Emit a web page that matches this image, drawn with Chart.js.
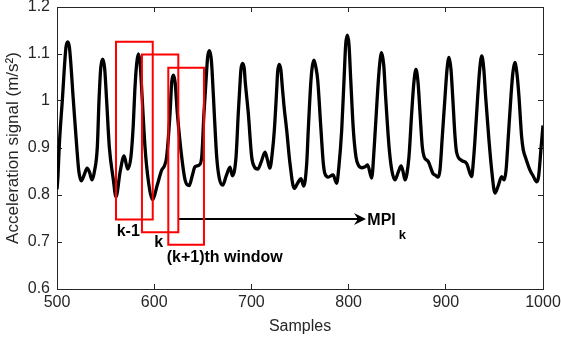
<!DOCTYPE html>
<html>
<head>
<meta charset="utf-8">
<script src="https://cdn.jsdelivr.net/npm/chart.js@4.4.0/dist/chart.umd.min.js"></script>
<style>
  html, body { margin: 0; padding: 0; background: #fff; }
  #wrap { position: relative; width: 561px; height: 338px; }
</style>
</head>
<body>
<div id="wrap"><canvas id="chart" width="561" height="338"></canvas></div>
<script>
// signal, one row per beat (sample index, acceleration in m/s^2)
const samples = [
  500, 501, 502.3, 505.5, 509.2, 511, 512.8, 516.8, 520.3, 522.5, 525, 528, 531, 533.5, 536,
  538.5, 541.5, 543.2, 545, 547, 549, 551.1, 553.8, 558, 560.7, 565, 569, 572.7,
  576, 578.5, 580, 582, 583.7, 585.5, 587.8, 590.5, 594, 598.5, 603, 607.7, 610.5,
  612.8, 616.3, 618, 619.7, 621.5, 623.8, 628.3, 632, 636, 639, 642, 646.4,
  648.9, 651.2, 654, 655, 656.7, 658.4, 659.5, 661.8, 664.3, 667, 670.5, 674, 678, 680.4,
  684.2, 686.5, 688.5, 689.3, 691, 692.7, 693.5, 696.8, 700.3, 703, 706.5, 710, 714, 716.5, 719,
  721.5, 723.6, 726, 727, 728.7, 730.4, 731.8, 733.5, 736.3, 739.7, 744, 747.5, 751, 753.8,
  756.9, 758.5, 761.3, 762.6, 764.4, 766.2, 768.2, 771.6, 774, 775.7, 779, 784, 787.7,
  790, 792.9, 795.3, 797, 798.7, 800.4, 802.2, 804.9, 807.6, 810, 814, 817, 819.6, 823.7,
  826.4, 829.5, 831.8, 834, 836.2, 838.1, 841.6, 844.4, 847.7, 851, 854, 856, 858,
  860, 862.1, 864.9, 867.2, 869.3, 871.4, 873.5, 875.8, 877.6, 882, 887, 889.5, 892,
  894, 896.4, 899.2, 901.3, 903.3, 905.3, 907.1, 909.5, 911, 916, 921.5, 926.6,
  928.3, 930, 932.8, 935, 937, 939, 941, 944.4, 947.2, 950.6, 954, 957.5, 960,
  962, 964.3, 967, 969, 971, 973.1, 975.3, 978, 979.7, 982, 986.6, 990, 993.5, 995.5, 998, 1000
];
const accel = [
  0.812, 0.84, 0.903, 1.002, 1.114, 1.126, 1.114, 1.002, 0.903, 0.85, 0.830, 0.843, 0.857, 0.848, 0.832,
  0.85, 0.903, 1.0, 1.07, 1.089, 1.07, 1.0, 0.903, 0.832, 0.796, 0.85, 0.883, 0.855,
  0.88, 0.95, 1.02, 1.08, 1.100, 1.08, 1.0, 0.903, 0.83, 0.790, 0.82, 0.853, 0.862,
  0.881, 0.974, 1.04, 1.055, 1.04, 0.974, 0.881, 0.83, 0.820, 0.84, 0.860, 0.864,
  0.881, 0.974, 1.066, 1.094, 1.107, 1.094, 1.066, 0.974, 0.881, 0.835, 0.821, 0.84, 0.859, 0.841,
  0.881, 0.974, 1.045, 1.068, 1.080, 1.068, 1.045, 0.974, 0.881, 0.86, 0.855, 0.87, 0.891, 0.875, 0.857,
  0.89, 0.938, 1.023, 1.062, 1.078, 1.065, 1.03, 0.99, 0.938, 0.867, 0.814, 0.825, 0.835, 0.819,
  0.867, 0.938, 1.045, 1.073, 1.087, 1.073, 1.045, 0.938, 0.867, 0.845, 0.838, 0.843, 0.825,
  0.86, 0.938, 1.045, 1.12, 1.140, 1.12, 1.045, 0.938, 0.881, 0.864, 0.858, 0.860, 0.864, 0.836,
  0.903, 1.009, 1.075, 1.103, 1.075, 1.009, 0.903, 0.853, 0.832, 0.848, 0.862, 0.85, 0.832,
  0.845, 0.881, 0.974, 1.04, 1.067, 1.04, 0.974, 0.903, 0.882, 0.871, 0.845, 0.842, 0.838,
  0.853, 0.924, 1.009, 1.068, 1.093, 1.068, 1.009, 0.924, 0.892, 0.874, 0.867, 0.839,
  0.87, 0.917, 1.009, 1.07, 1.096, 1.07, 1.009, 0.917, 0.853, 0.804, 0.82, 0.839, 0.832,
  0.853, 0.924, 1.009, 1.06, 1.082, 1.06, 1.009, 0.924, 0.896, 0.88, 0.853, 0.84, 0.828, 0.84, 0.90, 0.948
];

const yTickLabels = ['0.6', '0.7', '0.8', '0.9', '1', '1.1', '1.2'];

// sliding windows (k-1, k, k+1) in data units
const windowStart  = [560.7, 587.4, 614.5];
const windowEnd    = [598.5, 624.8, 651.2];
const windowTop    = [1.126, 1.099, 1.071];
const windowBottom = [0.748, 0.721, 0.694];

const windowLabels = ['k-1', 'k', '(k+1)th window'];
const labelX = [561.4, 600.1, 612.9];
const labelY = [0.7134, 0.690, 0.658];

const arrowFrom = 625.5, arrowTo = 817.9, arrowLevel = 0.749;
const mpiX = 819.3, mpiY = 0.736;

const axisColor = '#262626';
const font = 'Arial, "Liberation Sans", Helvetica, sans-serif';

const windowSets = windowStart.map((x0, i) => ({
  data: [
    { x: x0, y: windowTop[i] },
    { x: windowEnd[i], y: windowTop[i] },
    { x: windowEnd[i], y: windowBottom[i] },
    { x: x0, y: windowBottom[i] },
    { x: x0, y: windowTop[i] }
  ],
  borderColor: '#ff0000',
  borderWidth: 2,
  borderCapStyle: 'square',
  borderJoinStyle: 'miter',
  showLine: true,
  pointRadius: 0,
  tension: 0,
  order: 0
}));

// arrowhead and text labels, placed through the chart's scales
const annotations = {
  id: 'annotations',
  afterDatasetsDraw(chart) {
    const { ctx, scales: { x, y } } = chart;
    ctx.save();
    ctx.fillStyle = '#000';
    ctx.textBaseline = 'alphabetic';
    ctx.textAlign = 'left';
    ctx.font = 'bold 16px ' + font;
    windowLabels.forEach((t, i) => {
      ctx.fillText(t, x.getPixelForValue(labelX[i]), y.getPixelForValue(labelY[i]));
    });

    const tx = x.getPixelForValue(arrowTo);
    const ty = y.getPixelForValue(arrowLevel);
    ctx.beginPath();
    ctx.moveTo(tx, ty);
    ctx.lineTo(tx - 12, ty - 6);
    ctx.lineTo(tx - 8, ty);
    ctx.lineTo(tx - 12, ty + 6);
    ctx.closePath();
    ctx.fill();

    const mx = x.getPixelForValue(mpiX);
    const my = y.getPixelForValue(mpiY);
    ctx.fillText('MPI', mx, my);
    const w = ctx.measureText('MPI').width;
    ctx.font = 'bold 13px ' + font;
    ctx.fillText('k', mx + w + 3, my + 14);
    ctx.restore();
  }
};

new Chart(document.getElementById('chart'), {
  type: 'scatter',
  data: {
    datasets: [
      ...windowSets,
      {
        data: [{ x: arrowFrom, y: arrowLevel }, { x: arrowTo - 6, y: arrowLevel }],
        borderColor: '#000',
        borderWidth: 2,
        showLine: true,
        pointRadius: 0,
        order: 1
      },
      {
        data: samples.map((s, i) => ({ x: s, y: accel[i] })),
        borderColor: '#000',
        borderWidth: 3.3,
        borderJoinStyle: 'round',
        showLine: true,
        pointRadius: 0,
        cubicInterpolationMode: 'monotone',
        order: 2
      }
    ]
  },
  options: {
    responsive: false,
    animation: false,
    events: [],
    layout: { padding: { top: 7, right: 18, bottom: 0, left: 0 } },
    plugins: { legend: { display: false }, tooltip: { enabled: false } },
    scales: {
      x: {
        type: 'linear', position: 'bottom', min: 500, max: 1000,
        ticks: {
          stepSize: 100, color: axisColor, font: { family: font, size: 16 }, padding: 9, maxRotation: 0,
          callback: (v) => String(v)
        },
        grid: { drawOnChartArea: false, tickLength: -5, tickColor: axisColor },
        border: { display: true, color: axisColor, width: 1 },
        title: { display: true, text: 'Samples', color: axisColor, font: { family: font, size: 16 }, padding: { top: 0, bottom: 2 } },
        afterFit(s) { s.height = 49; s.paddingLeft = 0; s.paddingRight = 0; }
      },
      x2: {
        type: 'linear', position: 'top', min: 500, max: 1000,
        ticks: { stepSize: 100, display: false },
        grid: { drawOnChartArea: false, tickLength: -5, tickColor: axisColor },
        border: { display: true, color: axisColor, width: 1 },
        afterFit(s) { s.height = 0; s.paddingLeft = 0; s.paddingRight = 0; }
      },
      y: {
        type: 'linear', position: 'left', min: 0.6, max: 1.2,
        ticks: {
          stepSize: 0.1, color: axisColor, font: { family: font, size: 16 }, padding: 12,
          callback: (v) => yTickLabels[Math.round((v - 0.6) * 10)]
        },
        grid: { drawOnChartArea: false, tickLength: -5, tickColor: axisColor },
        border: { display: true, color: axisColor, width: 1 },
        title: { display: true, text: 'Acceleration signal (m/s²)', color: axisColor, font: { family: font, size: 17 }, padding: { top: 3, bottom: 0 } },
        afterFit(s) { s.width = 57; s.paddingTop = 0; s.paddingBottom = 0; }
      },
      y2: {
        type: 'linear', position: 'right', min: 0.6, max: 1.2,
        ticks: { stepSize: 0.1, display: false },
        grid: { drawOnChartArea: false, tickLength: -5, tickColor: axisColor },
        border: { display: true, color: axisColor, width: 1 },
        afterFit(s) { s.width = 0; s.paddingTop = 0; s.paddingBottom = 0; }
      }
    }
  },
  plugins: [annotations]
});
</script>
</body>
</html>
